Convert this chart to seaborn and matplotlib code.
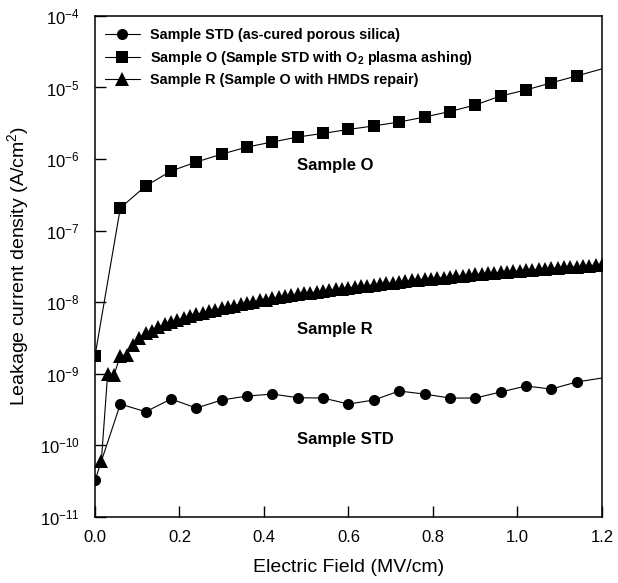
import numpy as np
import matplotlib
matplotlib.use("Agg")
import matplotlib.pyplot as plt
from matplotlib.ticker import FixedLocator, FuncFormatter, NullLocator
import seaborn as sns

# Data
field_std = [0.00, 0.06, 0.12, 0.18, 0.24, 0.30, 0.36, 0.42, 0.48, 0.54, 0.60,
             0.66, 0.72, 0.78, 0.84, 0.90, 0.96, 1.02, 1.08, 1.14, 1.20]
current_std = [3.2e-11, 3.74e-10, 2.92e-10, 4.40e-10, 3.29e-10, 4.26e-10, 4.84e-10,
               5.16e-10, 4.59e-10, 4.54e-10, 3.74e-10, 4.26e-10, 5.69e-10, 5.16e-10,
               4.54e-10, 4.54e-10, 5.51e-10, 6.68e-10, 6.07e-10, 7.60e-10, 8.65e-10]

field_o = field_std
current_o = [1.76e-9, 2.07e-7, 4.19e-7, 6.79e-7, 9.08e-7, 1.17e-6, 1.47e-6,
             1.73e-6, 2.03e-6, 2.28e-6, 2.59e-6, 2.90e-6, 3.29e-6, 3.86e-6,
             4.61e-6, 5.69e-6, 7.60e-6, 9.23e-6, 1.16e-5, 1.45e-5, 1.82e-5]

# sample R was swept with a finer regular step (0.015 MV/cm)
field_r = np.round(np.arange(1, 81) * 0.015, 3)
current_r = [5.9e-11, 1.00e-9, 9.5e-10, 1.78e-9, 1.82e-9, 2.51e-9, 3.16e-9, 3.63e-9,
             3.98e-9, 4.47e-9, 4.90e-9, 5.25e-9, 5.62e-9, 6.03e-9, 6.46e-9, 6.76e-9,
             7.08e-9, 7.41e-9, 7.76e-9, 8.13e-9, 8.51e-9, 8.91e-9, 9.33e-9, 9.77e-9,
             1.01e-8, 1.05e-8, 1.08e-8, 1.12e-8, 1.16e-8, 1.20e-8, 1.24e-8, 1.29e-8,
             1.32e-8, 1.35e-8, 1.38e-8, 1.41e-8, 1.46e-8, 1.50e-8, 1.53e-8, 1.58e-8,
             1.62e-8, 1.66e-8, 1.70e-8, 1.74e-8, 1.78e-8, 1.82e-8, 1.86e-8, 1.91e-8,
             1.95e-8, 2.00e-8, 2.04e-8, 2.09e-8, 2.11e-8, 2.16e-8, 2.19e-8, 2.24e-8,
             2.29e-8, 2.32e-8, 2.37e-8, 2.43e-8, 2.45e-8, 2.51e-8, 2.54e-8, 2.60e-8,
             2.63e-8, 2.69e-8, 2.72e-8, 2.79e-8, 2.82e-8, 2.85e-8, 2.92e-8, 2.95e-8,
             2.99e-8, 3.05e-8, 3.09e-8, 3.13e-8, 3.16e-8, 3.24e-8, 3.27e-8, 3.31e-8]

legend_labels = ["Sample STD (as-cured porous silica)",
                 r"Sample O (Sample STD with $\mathbf{O_2}$ plasma ashing)",
                 "Sample R (Sample O with HMDS repair)"]
annotations = ["Sample O", "Sample R", "Sample STD"]
annotation_y = [8.2e-7, 4.1e-9, 1.18e-10]
x_ticks = [0.0, 0.2, 0.4, 0.6, 0.8, 1.0, 1.2]
y_exponents = [-11, -10, -9, -8, -7, -6, -5, -4]

# Style
sns.set_style("ticks")
plt.rcParams["font.family"] = ["Liberation Sans", "DejaVu Sans"]
plt.rcParams["text.color"] = "black"
plt.rcParams["axes.labelcolor"] = "black"
plt.rcParams["mathtext.fontset"] = "custom"
plt.rcParams["mathtext.rm"] = "Liberation Sans"
plt.rcParams["mathtext.bf"] = "Liberation Sans:bold"
plt.rcParams["mathtext.it"] = "Liberation Sans:italic"

fig = plt.figure(figsize=(6.18, 5.83), dpi=100)
ax = fig.add_axes([0.1537, 0.114, 0.8203, 0.8586])

# Lines
sns.lineplot(x=field_std, y=current_std, ax=ax, color="black", lw=0.8,
             marker="o", markersize=8, markeredgewidth=0,
             markevery=list(range(len(field_std) - 1)), label=legend_labels[0])
sns.lineplot(x=field_o, y=current_o, ax=ax, color="black", lw=0.8,
             marker="s", markersize=8, markeredgewidth=0,
             markevery=list(range(len(field_o) - 1)), label=legend_labels[1])
sns.lineplot(x=field_r, y=current_r, ax=ax, color="black", lw=0.8,
             marker="^", markersize=10.5, markeredgewidth=0, label=legend_labels[2])

ax.set_yscale("log")
ax.set_xlim(0, 1.2)
ax.set_ylim(1e-11, 1e-4)

ax.xaxis.set_major_locator(FixedLocator(x_ticks))
ax.xaxis.set_major_formatter(FuncFormatter(lambda v, p: f"{v:.1f}"))
ax.yaxis.set_major_locator(FixedLocator([10.0 ** e for e in y_exponents]))
ax.yaxis.set_minor_locator(NullLocator())
ax.yaxis.set_major_formatter(FuncFormatter(
    lambda v, p: r"$\mathregular{10^{%d}}$" % int(round(np.log10(v)))))

ax.tick_params(axis="both", which="major", direction="in", length=8, width=1,
               labelsize=12, colors="black", bottom=True, left=True,
               top=False, right=False)
ax.tick_params(axis="y", pad=11)
ax.tick_params(axis="x", pad=10)

for s in ax.spines.values():
    s.set_visible(True)
    s.set_color("black")
    s.set_linewidth(1.1)

ax.set_xlabel("Electric Field (MV/cm)", fontsize=14, labelpad=10)
ax.set_ylabel(r"Leakage current density (A/cm$\mathregular{^2}$)", fontsize=14, labelpad=6)

# Labels next to the curves
for text, yv in zip(annotations, annotation_y):
    ax.text(0.478, yv, text, fontsize=12, fontweight="bold", ha="left", va="center")

leg = ax.legend(loc="upper left", bbox_to_anchor=(0.02, 0.975), frameon=False,
                prop={"weight": "bold", "size": 10.4}, handlelength=2.4,
                handletextpad=0.7, labelspacing=0.45, borderaxespad=0, borderpad=0)

fig.savefig("out.png", dpi=100)
